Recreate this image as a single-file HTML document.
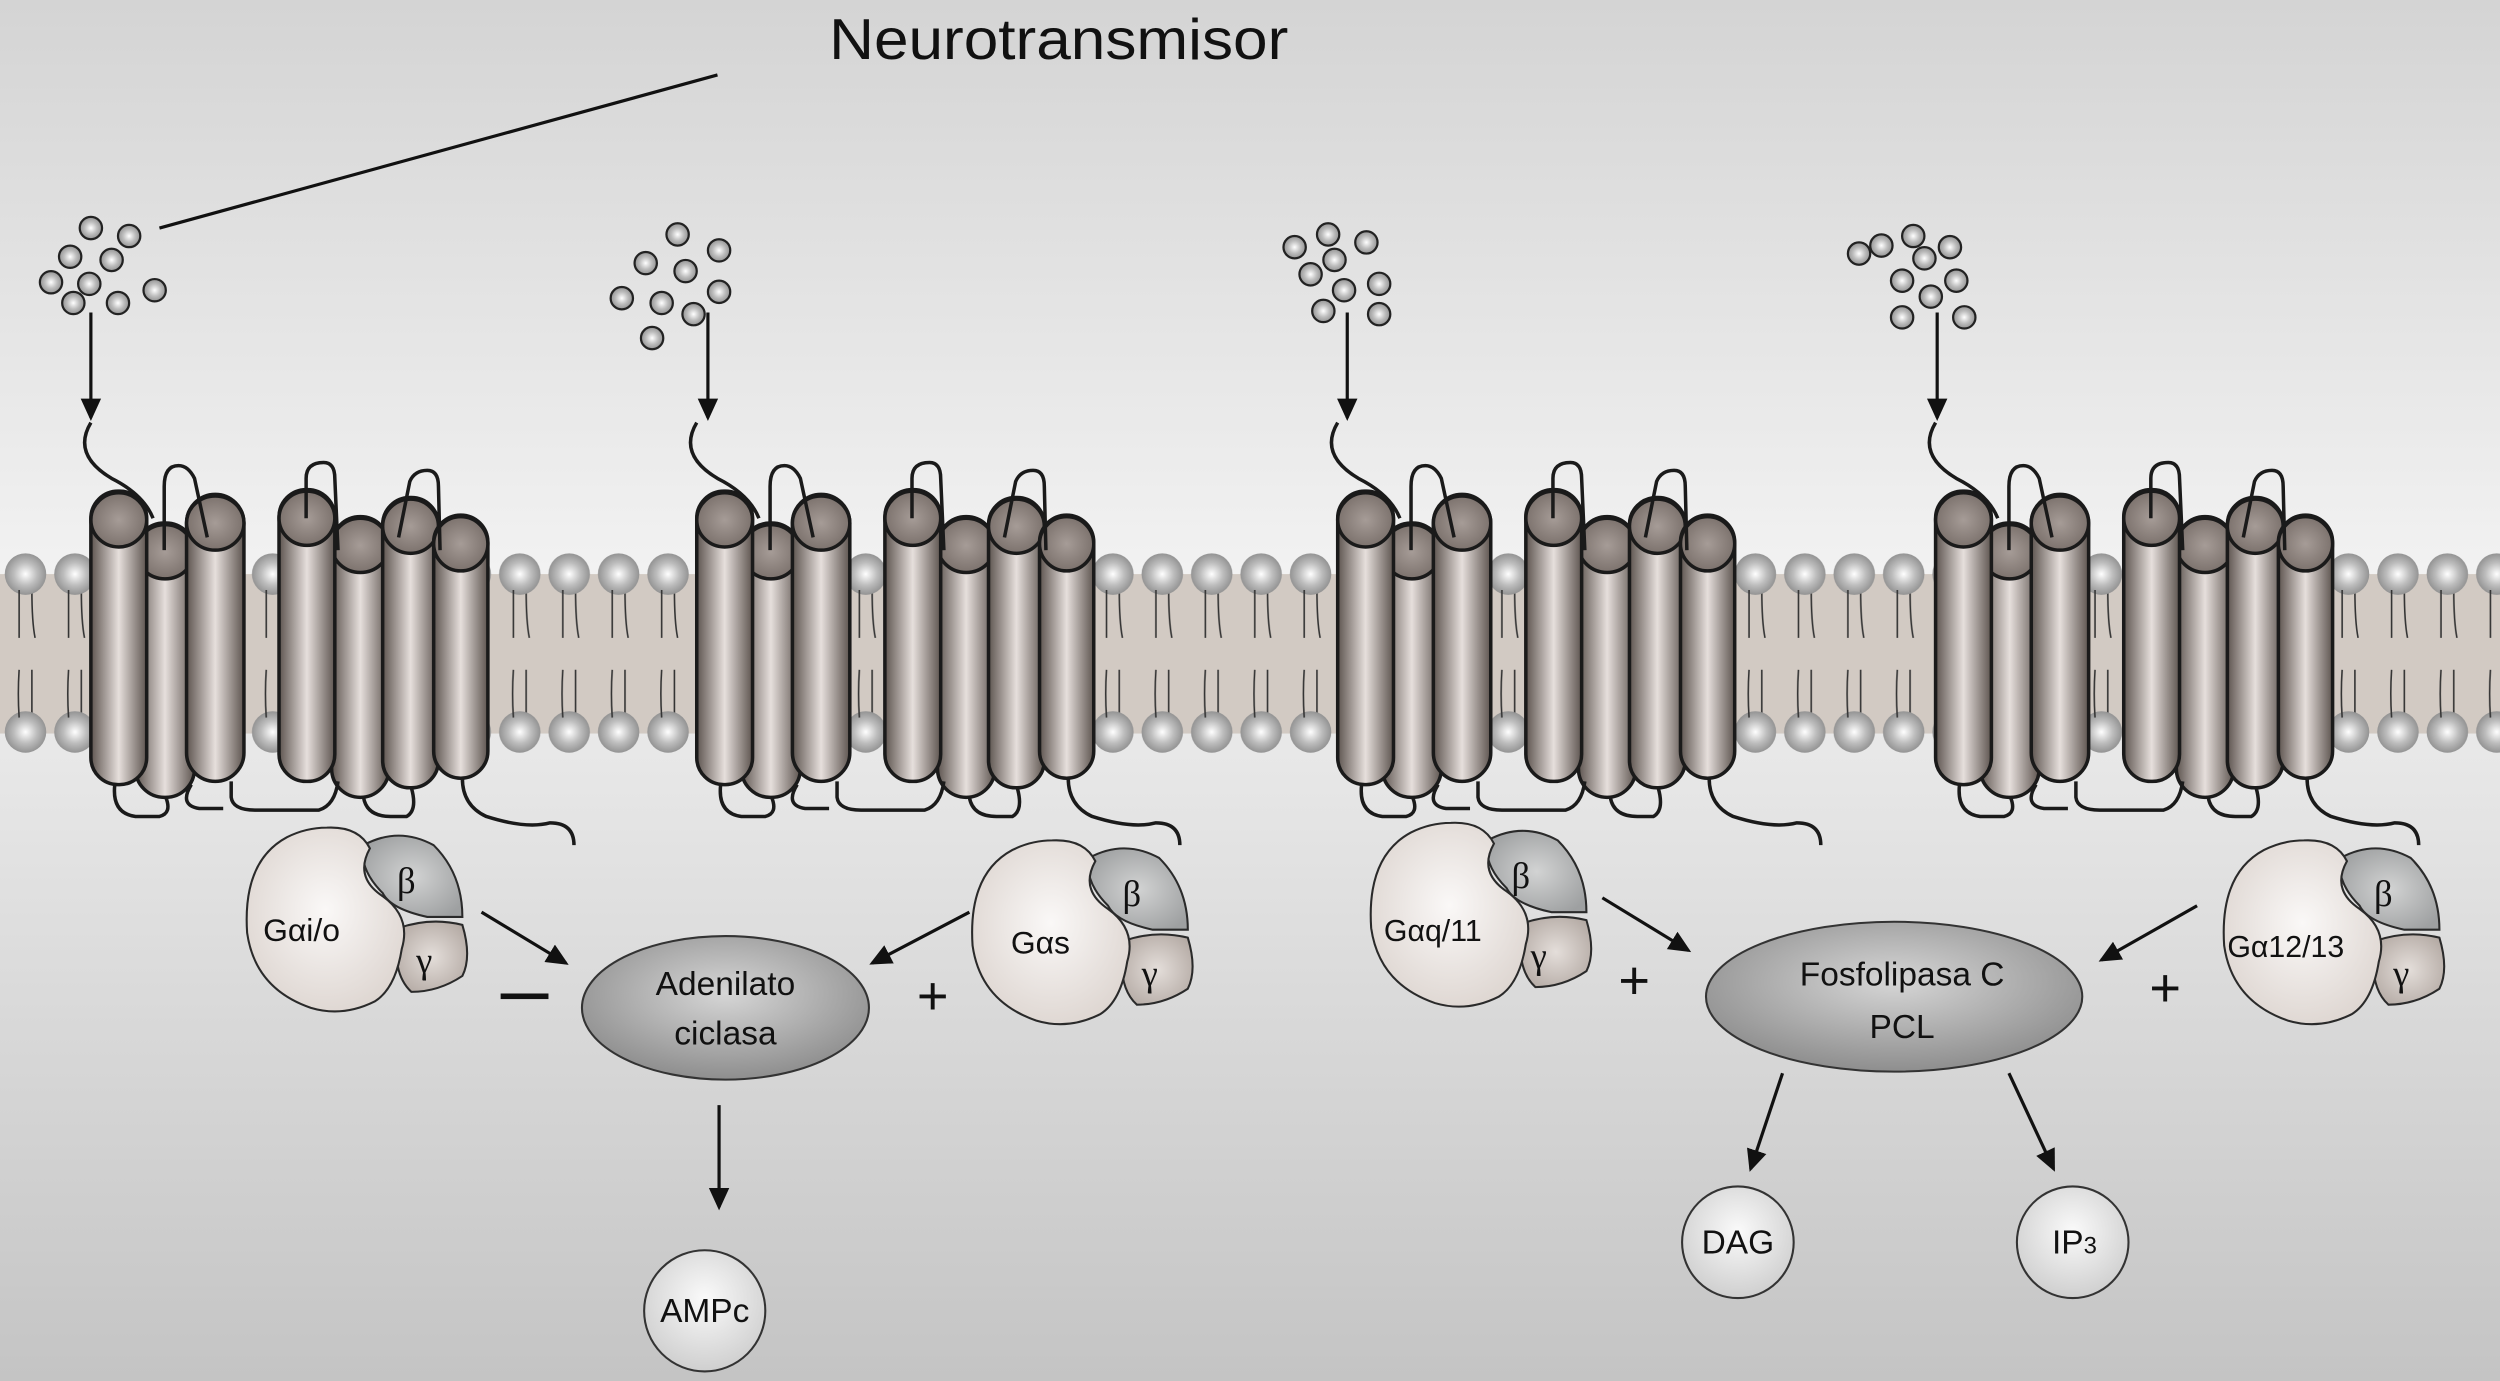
<!DOCTYPE html>
<html><head><meta charset="utf-8"><style>html,body{margin:0;padding:0}svg{display:block}</style></head><body>
<svg width="2500" height="1381" viewBox="0 0 1568 866" preserveAspectRatio="none" xmlns="http://www.w3.org/2000/svg" xmlns:xlink="http://www.w3.org/1999/xlink" font-family="Liberation Sans, DejaVu Sans, sans-serif">
<defs>
<linearGradient id="bgTop" x1="0" y1="0" x2="0" y2="1"><stop offset="0" stop-color="#d4d4d4"/><stop offset="1" stop-color="#f2f2f2"/></linearGradient>
<linearGradient id="bgBot" x1="0" y1="0" x2="0" y2="1"><stop offset="0" stop-color="#f2f2f2"/><stop offset="1" stop-color="#c4c4c4"/></linearGradient>
<radialGradient id="ball" cx="0.5" cy="0.5" r="0.55"><stop offset="0" stop-color="#ffffff"/><stop offset="0.5" stop-color="#bdbdbd"/><stop offset="1" stop-color="#8a8a8a"/></radialGradient>
<linearGradient id="cyl" x1="0" y1="0" x2="1" y2="0"><stop offset="0" stop-color="#5e5550"/><stop offset="0.5" stop-color="#e6dfdc"/><stop offset="1" stop-color="#5e5550"/></linearGradient>
<radialGradient id="cap" cx="0.5" cy="0.5" r="0.6"><stop offset="0" stop-color="#a69c97"/><stop offset="1" stop-color="#746a65"/></radialGradient>
<radialGradient id="alpha" cx="0.5" cy="0.45" r="0.6"><stop offset="0" stop-color="#faf8f7"/><stop offset="1" stop-color="#ddd5d0"/></radialGradient>
<radialGradient id="beta" cx="0.5" cy="0.5" r="0.6"><stop offset="0" stop-color="#d2d3d3"/><stop offset="1" stop-color="#9ea0a1"/></radialGradient>
<radialGradient id="gam" cx="0.5" cy="0.5" r="0.6"><stop offset="0" stop-color="#e4deda"/><stop offset="1" stop-color="#b4aaa4"/></radialGradient>
<radialGradient id="enz" cx="0.5" cy="0.4" r="0.6"><stop offset="0" stop-color="#d6d6d6"/><stop offset="1" stop-color="#8e8e8e"/></radialGradient>
<radialGradient id="prod" cx="0.5" cy="0.4" r="0.6"><stop offset="0" stop-color="#fafafa"/><stop offset="1" stop-color="#cfcfcf"/></radialGradient>
<marker id="ah" markerWidth="8" markerHeight="8" refX="6" refY="4" orient="auto" markerUnits="strokeWidth"><path d="M0,0.8 L7,4 L0,7.2z" fill="#111"/></marker>
<pattern id="lip" x="16" y="0" width="31" height="866" patternUnits="userSpaceOnUse">
<rect x="0" y="360" width="31" height="100" fill="#d2cac3"/>
<path d="M-4,370 V400 M4,370 Q4,390 6,400 M-4,420 Q-5,435 -4,450 M4,420 V450" stroke="#333" stroke-width="1" fill="none"/>
<circle cx="0" cy="360" r="13" fill="url(#ball)"/><circle cx="0" cy="459" r="13" fill="url(#ball)"/>
<circle cx="31" cy="360" r="13" fill="url(#ball)"/><circle cx="31" cy="459" r="13" fill="url(#ball)"/>
<path d="M27,370 V400 M35,370 Q35,390 37,400 M27,420 Q26,435 27,450 M35,420 V450" stroke="#333" stroke-width="1" fill="none"/>
</pattern>
<circle id="d" r="7" fill="url(#ball)" stroke="#222" stroke-width="1.4"/>
<g id="rec" stroke="#1a1a1a" stroke-width="2.2">
<path d="M57,265 Q45,285 70,300 Q90,310 96,325" fill="none"/>
<rect x="85" y="328" width="37" height="172" rx="18" fill="url(#cyl)"/><ellipse cx="103.5" cy="346" rx="18" ry="17" fill="url(#cap)"/>
<rect x="208" y="324" width="36" height="176" rx="18" fill="url(#cyl)"/><ellipse cx="226" cy="342" rx="18" ry="17" fill="url(#cap)"/>
<rect x="57" y="308" width="35" height="184" rx="17" fill="url(#cyl)"/><ellipse cx="74.5" cy="326" rx="17.5" ry="17" fill="url(#cap)"/>
<rect x="117" y="310" width="36" height="180" rx="18" fill="url(#cyl)"/><ellipse cx="135" cy="328" rx="18" ry="17" fill="url(#cap)"/>
<rect x="175" y="307" width="35" height="183" rx="17" fill="url(#cyl)"/><ellipse cx="192.5" cy="325" rx="17.5" ry="17" fill="url(#cap)"/>
<rect x="240" y="312" width="35" height="182" rx="17" fill="url(#cyl)"/><ellipse cx="257.5" cy="330" rx="17.5" ry="17" fill="url(#cap)"/>
<rect x="272" y="323" width="34" height="165" rx="17" fill="url(#cyl)"/><ellipse cx="289" cy="341" rx="17" ry="17" fill="url(#cap)"/>
<path d="M103,345 V305 Q103,292 112,292 Q118,292 122,300 L130,337 M192,325 V300 Q192,290 203,290 Q210,290 210,300 L212,345 M250,337 L257,302 Q260,295 268,295 Q275,295 275,305 L276,345" fill="none"/>
<path d="M72,492 Q70,510 85,512 L100,512 Q108,510 104,500 M120,492 Q112,505 125,507 L140,507 M145,490 V500 Q146,508 160,508 L200,508 Q210,505 212,490 M228,500 Q230,512 245,512 L255,512 Q262,508 258,494 M290,488 Q290,505 305,512 Q330,520 345,516 Q360,516 360,530" fill="none"/>
</g>
</defs>
<rect width="1568" height="360" fill="url(#bgTop)"/>
<rect y="360" width="1568" height="506" fill="url(#bgBot)"/>
<rect width="1568" height="866" fill="url(#lip)"/>

<text x="520" y="37" font-size="36" fill="#111" textLength="288" lengthAdjust="spacingAndGlyphs">Neurotransmisor</text>
<line x1="100" y1="143" x2="450" y2="47" stroke="#111" stroke-width="2"/>

<g>
<use xlink:href="#d" x="57" y="143"/><use xlink:href="#d" x="81" y="148"/><use xlink:href="#d" x="44" y="161"/><use xlink:href="#d" x="70" y="163"/><use xlink:href="#d" x="32" y="177"/><use xlink:href="#d" x="56" y="178"/><use xlink:href="#d" x="74" y="190"/><use xlink:href="#d" x="97" y="182"/><use xlink:href="#d" x="46" y="190"/>
<use xlink:href="#d" x="425" y="147"/><use xlink:href="#d" x="451" y="157"/><use xlink:href="#d" x="405" y="165"/><use xlink:href="#d" x="430" y="170"/><use xlink:href="#d" x="390" y="187"/><use xlink:href="#d" x="415" y="190"/><use xlink:href="#d" x="451" y="183"/><use xlink:href="#d" x="435" y="197"/><use xlink:href="#d" x="409" y="212"/>
<use xlink:href="#d" x="833" y="147"/><use xlink:href="#d" x="857" y="152"/><use xlink:href="#d" x="812" y="155"/><use xlink:href="#d" x="837" y="163"/><use xlink:href="#d" x="822" y="172"/><use xlink:href="#d" x="843" y="182"/><use xlink:href="#d" x="865" y="178"/><use xlink:href="#d" x="830" y="195"/><use xlink:href="#d" x="865" y="197"/>
<use xlink:href="#d" x="1166" y="159"/><use xlink:href="#d" x="1180" y="154"/><use xlink:href="#d" x="1200" y="148"/><use xlink:href="#d" x="1223" y="155"/><use xlink:href="#d" x="1207" y="162"/><use xlink:href="#d" x="1193" y="176"/><use xlink:href="#d" x="1227" y="176"/><use xlink:href="#d" x="1211" y="186"/><use xlink:href="#d" x="1193" y="199"/><use xlink:href="#d" x="1232" y="199"/>
</g>
<g stroke="#111" stroke-width="2" marker-end="url(#ah)">
<line x1="57" y1="196" x2="57" y2="262"/>
<line x1="444" y1="196" x2="444" y2="262"/>
<line x1="845" y1="196" x2="845" y2="262"/>
<line x1="1215" y1="196" x2="1215" y2="262"/>
</g>

<use xlink:href="#rec"/>
<use xlink:href="#rec" x="380"/>
<use xlink:href="#rec" x="782"/>
<use xlink:href="#rec" x="1157"/>

<g stroke="#2a2a2a" stroke-width="1.3">
<g id="gp">
<path d="M228,530 Q250,518 272,530 Q290,548 290,575 L268,575 Q245,570 240,560 Q225,545 228,530z" fill="url(#beta)"/>
<path d="M250,582 Q270,575 290,580 Q296,600 290,612 Q275,622 258,622 Q245,610 250,582z" fill="url(#gam)"/>
<path d="M205,519 Q225,518 232,532 Q222,550 240,562 Q258,575 252,595 Q248,620 235,628 Q215,638 195,632 Q160,620 155,585 Q152,540 180,525 Q192,519 205,519z" fill="url(#alpha)"/>
</g>
<use xlink:href="#gp" x="455" y="8"/>
<use xlink:href="#gp" x="705" y="-3"/>
<use xlink:href="#gp" x="1240" y="8"/>
</g>
<g font-size="20" fill="#111">
<text x="165" y="590">Gαi/o</text>
<text x="634" y="598">Gαs</text>
<text x="868" y="590" font-size="19">Gαq/11</text>
<text x="1397" y="600" font-size="19">Gα12/13</text>
</g>
<g font-family="Liberation Serif, DejaVu Serif, serif" font-size="23" fill="#111">
<text x="249" y="560">β</text><text x="261" y="610">γ</text>
<text x="704" y="568">β</text><text x="716" y="618">γ</text>
<text x="948" y="557">β</text><text x="960" y="607">γ</text>
<text x="1489" y="568">β</text><text x="1501" y="618">γ</text>
</g>

<ellipse cx="455" cy="632" rx="90" ry="45" fill="url(#enz)" stroke="#333" stroke-width="1.3"/>
<text x="455" y="624" font-size="21" text-anchor="middle" fill="#111">Adenilato</text>
<text x="455" y="655" font-size="21" text-anchor="middle" fill="#111">ciclasa</text>
<ellipse cx="1188" cy="625" rx="118" ry="47" fill="url(#enz)" stroke="#333" stroke-width="1.3"/>
<text x="1193" y="618" font-size="21" text-anchor="middle" fill="#111">Fosfolipasa C</text>
<text x="1193" y="651" font-size="21" text-anchor="middle" fill="#111">PCL</text>

<g fill="url(#prod)" stroke="#333" stroke-width="1.3">
<circle cx="442" cy="822" r="38"/><circle cx="1090" cy="779" r="35"/><circle cx="1300" cy="779" r="35"/>
</g>
<text x="442" y="829" font-size="21" text-anchor="middle" fill="#111">AMPc</text>
<text x="1090" y="786" font-size="21" text-anchor="middle" fill="#111">DAG</text>
<text x="1287" y="786" font-size="21" fill="#111">IP<tspan font-size="15">3</tspan></text>

<g stroke="#111" stroke-width="2" marker-end="url(#ah)">
<line x1="302" y1="572" x2="355" y2="604"/>
<line x1="608" y1="572" x2="547" y2="604"/>
<line x1="1005" y1="563" x2="1059" y2="596"/>
<line x1="1378" y1="568" x2="1318" y2="602"/>
<line x1="451" y1="693" x2="451" y2="757"/>
<line x1="1118" y1="673" x2="1098" y2="733"/>
<line x1="1260" y1="673" x2="1288" y2="733"/>
</g>
<g fill="#111" font-size="34" text-anchor="middle">
<rect x="314" y="623" width="30" height="3.5"/>
<text x="585" y="636">+</text>
<text x="1025" y="626">+</text>
<text x="1358" y="631">+</text>
</g>
</svg>
</body></html>
